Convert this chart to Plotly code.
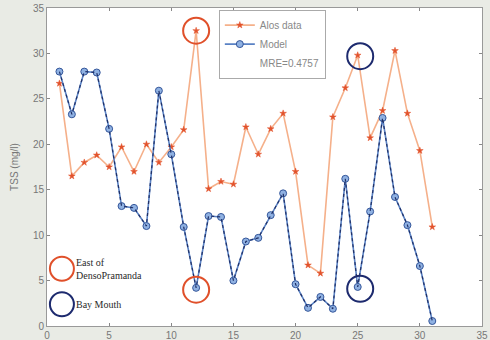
import plotly.graph_objects as go

x_days = list(range(1, 32))
alos_tss = [26.7, 16.5, 18.0, 18.8, 17.5, 19.7, 17.0, 20.0, 18.0, 19.7,
            21.6, 32.5, 15.1, 15.9, 15.6, 21.9, 18.9, 21.7, 23.4, 17.0,
            6.7, 5.8, 23.0, 26.2, 29.8, 20.7, 23.7, 30.3, 23.4, 19.3, 10.9]
model_tss = [28.0, 23.3, 28.0, 27.9, 21.7, 13.2, 13.0, 11.0, 25.9, 18.9,
             10.9, 4.2, 12.1, 12.0, 5.0, 9.3, 9.7, 12.2, 14.6, 4.6,
             2.0, 3.2, 1.9, 16.2, 4.3, 12.6, 22.9, 14.2, 11.1, 6.6, 0.55]
series_names = ["Alos data", "Model", "MRE=0.4757"]
tick_vals = [0, 5, 10, 15, 20, 25, 30, 35]
# highlighted points
red_marks = [(12, 32.5), (12, 4.0)]
blue_marks = [(25.2, 29.7), (25.2, 4.1)]
key_labels = ["East of<br>DensoPramanda", "Bay Mouth"]

ORANGE_LINE = "#f5b08a"
ORANGE_MARK = "#e2532c"
BLUE_LINE = "#5a82c4"
BLUE_MARK = "#8fb1e2"
BLUE_EDGE = "#34569a"
BG = "#e9ebe5"

fig = go.Figure()
fig.add_trace(go.Scatter(
    x=x_days, y=alos_tss, mode="lines+markers", name=series_names[0],
    line=dict(color=ORANGE_LINE, width=1.6),
    marker=dict(symbol="star", size=5, color=ORANGE_MARK,
                line=dict(color=ORANGE_MARK, width=0.5))))
fig.add_trace(go.Scatter(
    x=x_days, y=model_tss, mode="lines+markers", name=series_names[1],
    line=dict(color=BLUE_LINE, width=1.6),
    marker=dict(symbol="circle", size=7, color=BLUE_MARK,
                line=dict(color=BLUE_EDGE, width=1))))
fig.add_trace(go.Scatter(
    x=x_days, y=model_tss, mode="lines", showlegend=False, hoverinfo="skip",
    line=dict(color="#1f2f66", width=1.2, dash="dot")))
fig.add_trace(go.Scatter(
    x=[None], y=[None], mode="lines", name=series_names[2],
    line=dict(color="rgba(0,0,0,0)", width=1)))

px_per_x = 435 / 35.0
px_per_y = 318 / 35.0
def circle(cx, cy, rpx, color):
    rx = rpx / px_per_x
    ry = rpx / px_per_y
    fig.add_shape(type="circle", xref="x", yref="y",
                  x0=cx - rx, x1=cx + rx, y0=cy - ry, y1=cy + ry,
                  line=dict(color=color, width=2))

for (cx, cy) in red_marks:
    circle(cx, cy, 13, "#e0502a")
for (cx, cy) in blue_marks:
    circle(cx, cy, 13, "#1d2a6e")

circle(1.2, 6.3, 12, "#e0502a")
circle(1.2, 2.4, 12, "#1d2a6e")
fig.add_annotation(x=2.2, y=6.3, xref="x", yref="y", text=key_labels[0],
                   showarrow=False, xanchor="left", align="left",
                   font=dict(family="Liberation Serif", size=10, color="#2a2a2a"))
fig.add_annotation(x=2.2, y=2.4, xref="x", yref="y", text=key_labels[1],
                   showarrow=False, xanchor="left", align="left",
                   font=dict(family="Liberation Serif", size=10, color="#2a2a2a"))

axis_common = dict(
    tickmode="array", tickvals=tick_vals, ticks="inside", ticklen=3,
    tickcolor="#888", showline=True, linecolor="#999", linewidth=1,
    mirror="ticks", showgrid=False, zeroline=False, automargin=False,
    tickfont=dict(family="Liberation Sans", size=10, color="#777"))

fig.update_xaxes(range=[0, 35], **axis_common)
fig.update_yaxes(range=[0, 35], title=dict(text="TSS (mg/l)", standoff=12,
                 font=dict(family="Liberation Sans", size=10, color="#777")),
                 **axis_common)

fig.update_layout(
    width=490, height=340,
    margin=dict(l=47, r=8, t=8, b=14),
    paper_bgcolor=BG, plot_bgcolor="#ffffff",
    showlegend=True,
    legend=dict(x=0.395, y=0.995, xanchor="left", yanchor="top",
                bgcolor="#ffffff", bordercolor="#aaa", borderwidth=1,
                font=dict(family="Liberation Sans", size=10, color="#888"),
                itemwidth=30, tracegroupgap=0),
)

fig.write_html("out.html", config={"displayModeBar": False},
               post_script="document.body.style.margin='0';"
                           "document.body.style.background='" + BG + "';")
